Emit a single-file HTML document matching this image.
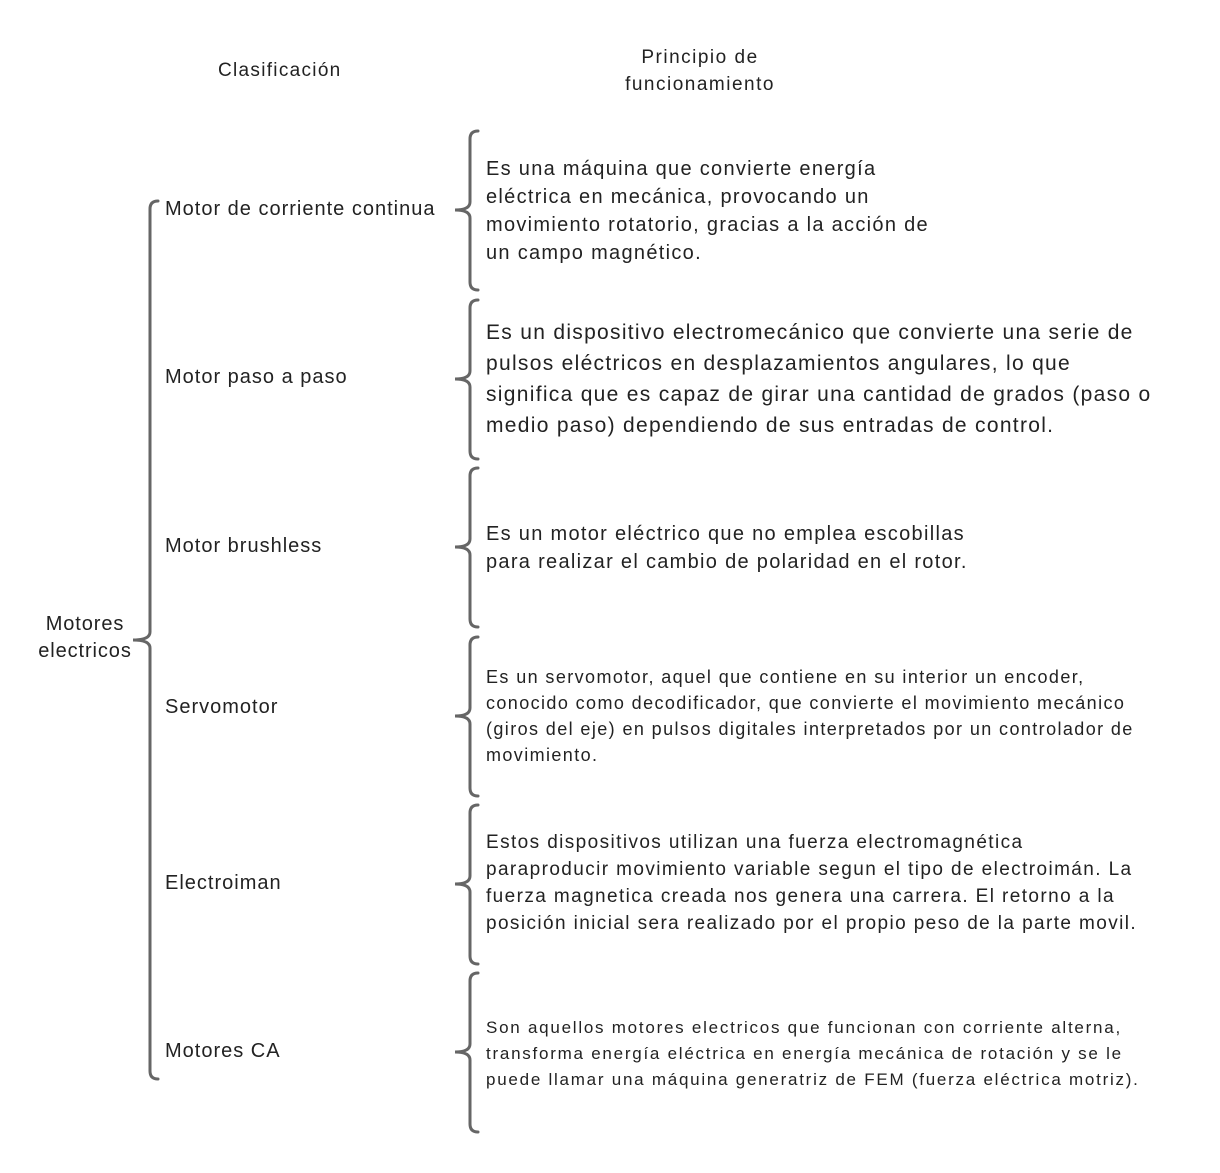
<!DOCTYPE html>
<html><head><meta charset="utf-8"><style>
body{margin:0;background:#fff;width:1220px;height:1173px;position:relative;font-family:"Liberation Sans",Arial,sans-serif;color:#222;overflow:hidden}
.t{position:absolute;white-space:nowrap}
.l{letter-spacing:1px}
svg{position:absolute;left:0;top:0}
</style></head><body>
<svg width="1220" height="1173" fill="none" stroke="#666" stroke-width="3" stroke-linecap="round">
<path d="M158 201 Q150 201 150 209 L150 632 Q150 640 133 640 Q150 640 150 648 L150 1071 Q150 1079 158 1079"/>
<path d="M478 131 Q470 131 470 139 L470 202 Q470 210 455 210 Q470 210 470 218 L470 282 Q470 290 478 290"/>
<path d="M478 300 Q470 300 470 308 L470 371 Q470 379 455 379 Q470 379 470 387 L470 451 Q470 459 478 459"/>
<path d="M478 468 Q470 468 470 476 L470 539 Q470 547 455 547 Q470 547 470 555 L470 619 Q470 627 478 627"/>
<path d="M478 637 Q470 637 470 645 L470 708 Q470 716 455 716 Q470 716 470 724 L470 788 Q470 796 478 796"/>
<path d="M478 805 Q470 805 470 813 L470 876 Q470 884 455 884 Q470 884 470 892 L470 956 Q470 964 478 964"/>
<path d="M478 973 Q470 973 470 981 L470 1044 Q470 1052 455 1052 Q470 1052 470 1060 L470 1124 Q470 1132 478 1132"/>
</svg>
<div class="t" style="left:218px;top:60px;font-size:19px;letter-spacing:1.3px">Clasificación</div>
<div class="t" style="left:625px;top:44px;width:150px;font-size:19px;text-align:center;line-height:27px;letter-spacing:1.5px">Principio de<br>funcionamiento</div>
<div class="t" style="left:33px;top:611px;width:104px;font-size:20px;text-align:center;line-height:27px;letter-spacing:0.9px">Motores<br>electricos</div>
<div class="t l" style="left:165px;top:198px;font-size:20px">Motor de corriente continua</div>
<div class="t l" style="left:165px;top:366px;font-size:20px">Motor paso a paso</div>
<div class="t l" style="left:165px;top:535px;font-size:20px">Motor brushless</div>
<div class="t l" style="left:165px;top:696px;font-size:20px">Servomotor</div>
<div class="t l" style="left:165px;top:872px;font-size:20px">Electroiman</div>
<div class="t l" style="left:165px;top:1040px;font-size:20px">Motores CA</div>
<div class="t" style="left:486px;top:155px;font-size:20px;line-height:28px;letter-spacing:1.3px">Es una máquina que convierte energía<br>eléctrica en mecánica, provocando un<br>movimiento rotatorio, gracias a la acción de<br>un campo magnético.</div>
<div class="t" style="left:486px;top:317px;font-size:21px;line-height:31px;letter-spacing:1.3px">Es un dispositivo electromecánico que convierte una serie de<br>pulsos eléctricos en desplazamientos angulares, lo que<br>significa que es capaz de girar una cantidad de grados (paso o<br>medio paso) dependiendo de sus entradas de control.</div>
<div class="t" style="left:486px;top:520px;font-size:20px;line-height:28px;letter-spacing:1.3px">Es un motor eléctrico que no emplea escobillas<br>para realizar el cambio de polaridad en el rotor.</div>
<div class="t" style="left:486px;top:664px;font-size:18px;line-height:26px;letter-spacing:1.4px">Es un servomotor, aquel que contiene en su interior un encoder,<br>conocido como decodificador, que convierte el movimiento mecánico<br>(giros del eje) en pulsos digitales interpretados por un controlador de<br>movimiento.</div>
<div class="t" style="left:486px;top:829px;font-size:19px;line-height:27px;letter-spacing:1.4px">Estos dispositivos utilizan una fuerza electromagnética<br>paraproducir movimiento variable segun el tipo de electroimán. La<br>fuerza magnetica creada nos genera una carrera. El retorno a la<br>posición inicial sera realizado por el propio peso de la parte movil.</div>
<div class="t" style="left:486px;top:1015px;font-size:17px;line-height:26px;letter-spacing:1.75px">Son aquellos motores electricos que funcionan con corriente alterna,<br>transforma energía eléctrica en energía mecánica de rotación y se le<br>puede llamar una máquina generatriz de FEM (fuerza eléctrica motriz).</div>
</body></html>
